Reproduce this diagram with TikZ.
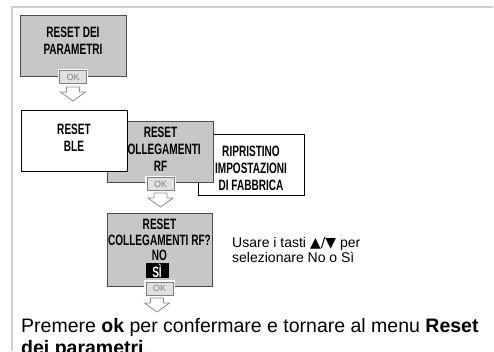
\documentclass[tikz,border=0pt]{standalone}
\usepackage{fontspec}
\setmainfont{Liberation Sans}
\newfontfamily\condfont[FakeStretch=0.67]{Liberation Sans Bold}
\newfontfamily\symfont{DejaVu Sans}
\begin{document}
\begin{tikzpicture}[x=1pt, y=-1pt]
  \tikzset{
    riquadro/.style={draw=black!70, line width=1pt, fill=black!22, minimum width=106pt, minimum height=61pt, inner sep=0pt},
    bianco/.style={riquadro, draw=black, fill=white},
    testo/.style={align=center, font=\condfont\fontsize{15}{17}\selectfont, inner sep=0pt},
    tastook/.style={draw=black!50, fill=black!12, line width=0.7pt, text=black!50, font=\fontsize{9}{9}\selectfont, minimum width=27pt, minimum height=13pt, inner sep=0pt, preaction={draw=white, line width=3.5pt}},
    freccia/.pic={\draw[draw=black!45, fill=white, line width=0.8pt, line join=miter] (-6.5,0) -- (6.5,0) -- (6.5,5) -- (12.5,5) -- (0,14) -- (-12.5,5) -- (-6.5,5) -- cycle;}
  }
  \useasboundingbox (0,0) rectangle (494,351);

  % cornice
  \draw[black!18, line width=2pt] (12,351) -- (12,7) -- (493,7);

  % reset dei parametri
  \node[riquadro] (R1) at (73,46) {};
  \node[testo] (T1) at ([yshift=5pt]R1.center) {RESET DEI\\PARAMETRI};
  \node[tastook] (K1) at (R1.south) {OK};
  \pic at (73,87) {freccia};

  % sottomenu (ordine: dal fondo)
  \node[bianco] (R4) at (251,165) {};
  \node[testo] (T4) at ([yshift=-3pt]R4.center) {RIPRISTINO\\IMPOSTAZIONI\\DI FABBRICA};
  \node[riquadro] (R3) at (160.5,152) {};
  \node[testo] (T3) at ([yshift=2.5pt]R3.center) {RESET\\COLLEGAMENTI\\RF};
  \node[bianco] (R2) at (74,140.5) {};
  \node[testo] (T2) at ([yshift=3pt]R2.center) {RESET\\BLE};
  \node[tastook] (K2) at ([yshift=-1pt]R3.south) {OK};
  \pic at (160.5,193) {freccia};

  % conferma
  \node[riquadro, minimum width=105pt, minimum height=73pt] (R5) at (159.5,249.5) {};
  \node[testo, font=\condfont\fontsize{15}{15.5}\selectfont] (T5) at (159.5,240) {RESET\\COLLEGAMENTI RF?\\NO};
  \node[fill=black, text=white, font=\condfont\fontsize{15}{15}\selectfont, minimum width=23pt, minimum height=15pt, inner sep=0pt] (SI) at (157,270.5) {SÌ};
  \node[tastook] (K3) at ([yshift=-2pt]R5.south) {OK};
  \pic at (157,298) {freccia};

  % testi
  \node[anchor=north west, align=left, inner sep=0pt, font=\fontsize{14}{15.5}\selectfont] (N1) at (232,237)
    {Usare i tasti {\symfont ▲/▼} per\\selezionare No o Sì};
  \node[anchor=north west, align=left, inner sep=0pt, font=\fontsize{19.5}{22.5}\selectfont] (N2) at (21,318)
    {Premere \textbf{ok} per confermare e tornare al menu \textbf{Reset}\\\textbf{dei parametri}.};
\end{tikzpicture}
\end{document}
